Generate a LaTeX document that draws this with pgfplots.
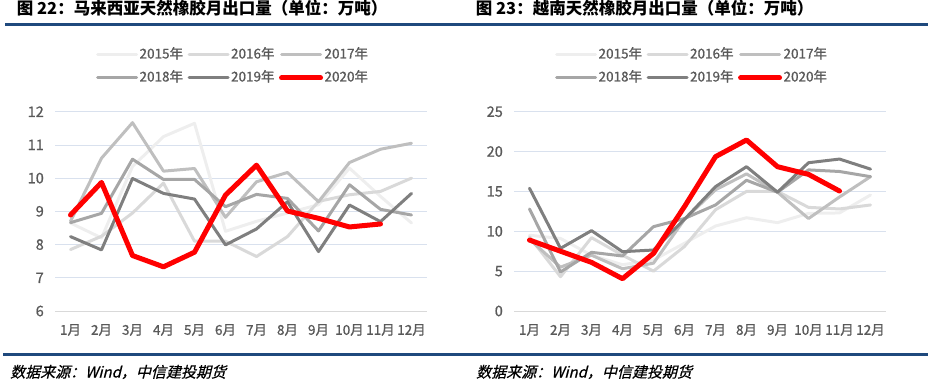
\documentclass[border=0pt]{standalone}
\usepackage{pgfplots}
\pgfplotsset{compat=1.18}
\usepackage{fontspec}
\setmainfont{Noto Sans CJK SC}
\newfontfamily\srcfont[FakeSlant=0.25,FakeBold=0.6]{Noto Sans CJK SC}
\newfontfamily\medfont[FakeBold=0.9]{Noto Sans CJK SC}
\definecolor{c15}{HTML}{EEEEEE}
\definecolor{c16}{HTML}{D9D9D9}
\definecolor{c17}{HTML}{BFBFBF}
\definecolor{c18}{HTML}{A6A6A6}
\definecolor{c19}{HTML}{7F7F7F}
\definecolor{c20}{HTML}{FF0000}
\definecolor{gridblue}{HTML}{D9E1EE}
\definecolor{tickgray}{HTML}{595959}
\definecolor{barblue}{HTML}{1F497D}
\pgfplotsset{
  panel/.style={
    scale only axis, width=372bp, height=199.3bp,
    xmin=0.5, xmax=12.5, xtick={1,...,12},
    xticklabels={1月,2月,3月,4月,5月,6月,7月,8月,9月,10月,11月,12月},
    axis x line*=bottom, axis y line*=left,
    x axis line style={draw=c16, line width=0.8bp},
    y axis line style={draw=none},
    ymajorgrids, grid style={draw=gridblue, line width=0.8bp},
    major tick length=0,
    /pgf/number format/assume math mode=true,
    tick label style={font=\fontsize{13.5bp}{15bp}\medfont, text=tickgray, inner sep=0pt},
    yticklabel style={font=\fontsize{14.5bp}{16bp}\medfont, anchor=east, xshift=-11bp},
    xticklabel style={anchor=center, yshift=-19bp},
    legend columns=3,
    legend image code/.code={\draw[##1] (0bp,0bp) -- (39bp,0bp);},
    legend style={draw=none, fill=none, anchor=center,
      font=\fontsize{13.5bp}{15bp}\medfont, text=tickgray,
      row sep=7bp,
      nodes={inner sep=1.5bp, text height=10bp, text depth=3bp},
      /tikz/every even column/.append style={column sep=3bp}},
    every axis plot/.append style={line join=round, line cap=round},
  },
  s15/.style={draw=c15, line width=3bp},
  s16/.style={draw=c16, line width=3bp},
  s17/.style={draw=c17, line width=3bp},
  s18/.style={draw=c18, line width=3bp},
  s19/.style={draw=c19, line width=3bp},
  s20/.style={draw=c20, line width=5bp},
}
\begin{document}
\begin{tikzpicture}[x=1bp,y=1bp]
\path[use as bounding box] (0,0) rectangle (928,382);
% titles and rules
\draw[barblue, line width=3bp] (5,357) -- (928,357);
\draw[barblue, line width=3bp] (3,28) -- (928,28);
\node[anchor=base west, inner sep=0pt, font=\fontsize{16.5bp}{18bp}\selectfont\bfseries] at (16.7,367.3) {图 22：马来西亚天然橡胶月出口量（单位：万吨）};
\node[anchor=base west, inner sep=0pt, font=\fontsize{16.5bp}{18bp}\selectfont\bfseries] at (475.7,367.3) {图 23：越南天然橡胶月出口量（单位：万吨）};
\node[anchor=base west, inner sep=0pt, font=\fontsize{15bp}{16bp}\srcfont] at (10,4.5) {数据来源：Wind，中信建投期货};
\node[anchor=base west, inner sep=0pt, font=\fontsize{15bp}{16bp}\srcfont] at (476,4.5) {数据来源：Wind，中信建投期货};

% left panel
\begin{axis}[panel, at={(55bp,71bp)}, anchor=south west,
  ymin=6, ymax=12, ytick={6,7,...,12},
  legend style={at={(0.478,1.227)}}]
\addplot[s15] coordinates {(1,8.65)(2,8.2)(3,10.35)(4,11.25)(5,11.65)(6,8.4)(7,8.7)(8,8.95)(9,9.2)(10,10.3)(11,9.45)(12,8.65)};
\addlegendentry{2015年}
\addplot[s16] coordinates {(1,7.85)(2,8.25)(3,8.95)(4,9.85)(5,8.1)(6,8.1)(7,7.64)(8,8.24)(9,9.3)(10,9.5)(11,9.6)(12,10.0)};
\addlegendentry{2016年}
\addplot[s17] coordinates {(1,8.7)(2,10.6)(3,11.67)(4,10.21)(5,10.29)(6,8.82)(7,9.89)(8,10.17)(9,9.29)(10,10.47)(11,10.87)(12,11.05)};
\addlegendentry{2017年}
\addplot[s18] coordinates {(1,8.66)(2,8.94)(3,10.57)(4,9.96)(5,9.96)(6,9.14)(7,9.51)(8,9.39)(9,8.41)(10,9.8)(11,9.06)(12,8.89)};
\addlegendentry{2018年}
\addplot[s19] coordinates {(1,8.24)(2,7.84)(3,9.99)(4,9.54)(5,9.37)(6,7.99)(7,8.47)(8,9.29)(9,7.79)(10,9.19)(11,8.69)(12,9.54)};
\addlegendentry{2019年}
\addplot[s20] coordinates {(1,8.89)(2,9.87)(3,7.67)(4,7.33)(5,7.77)(6,9.49)(7,10.39)(8,9.01)(9,8.79)(10,8.53)(11,8.62)};
\addlegendentry{2020年}
\end{axis}

% right panel
\begin{axis}[panel, at={(514bp,71bp)}, anchor=south west,
  ymin=0, ymax=25, ytick={0,5,...,25},
  legend style={at={(0.478,1.227)}}]
\addplot[s15] coordinates {(1,9.5)(2,9.1)(3,7.0)(4,5.8)(5,6.4)(6,8.5)(7,10.66)(8,11.7)(9,11.08)(10,12.25)(11,12.3)(12,14.55)};
\addlegendentry{2015年}
\addplot[s16] coordinates {(1,9.3)(2,4.3)(3,9.2)(4,7.0)(5,5.0)(6,8.1)(7,12.7)(8,15.0)(9,15.0)(10,13.0)(11,12.8)(12,13.3)};
\addlegendentry{2016年}
\addplot[s17] coordinates {(1,9.0)(2,5.5)(3,7.0)(4,5.3)(5,6.0)(6,11.5)(7,15.2)(8,17.2)(9,14.9)(10,11.6)(11,14.3)(12,16.85)};
\addlegendentry{2017年}
\addplot[s18] coordinates {(1,12.8)(2,4.9)(3,7.36)(4,6.9)(5,10.58)(6,11.6)(7,13.3)(8,16.4)(9,14.9)(10,17.7)(11,17.5)(12,16.85)};
\addlegendentry{2018年}
\addplot[s19] coordinates {(1,15.4)(2,7.86)(3,10.08)(4,7.44)(5,7.65)(6,11.5)(7,15.6)(8,18.1)(9,14.9)(10,18.6)(11,19.06)(12,17.8)};
\addlegendentry{2019年}
\addplot[s20] coordinates {(1,8.9)(2,7.5)(3,6.1)(4,4.05)(5,7.23)(6,13.1)(7,19.36)(8,21.45)(9,18.1)(10,17.14)(11,15.05)};
\addlegendentry{2020年}
\end{axis}
\end{tikzpicture}
\end{document}
